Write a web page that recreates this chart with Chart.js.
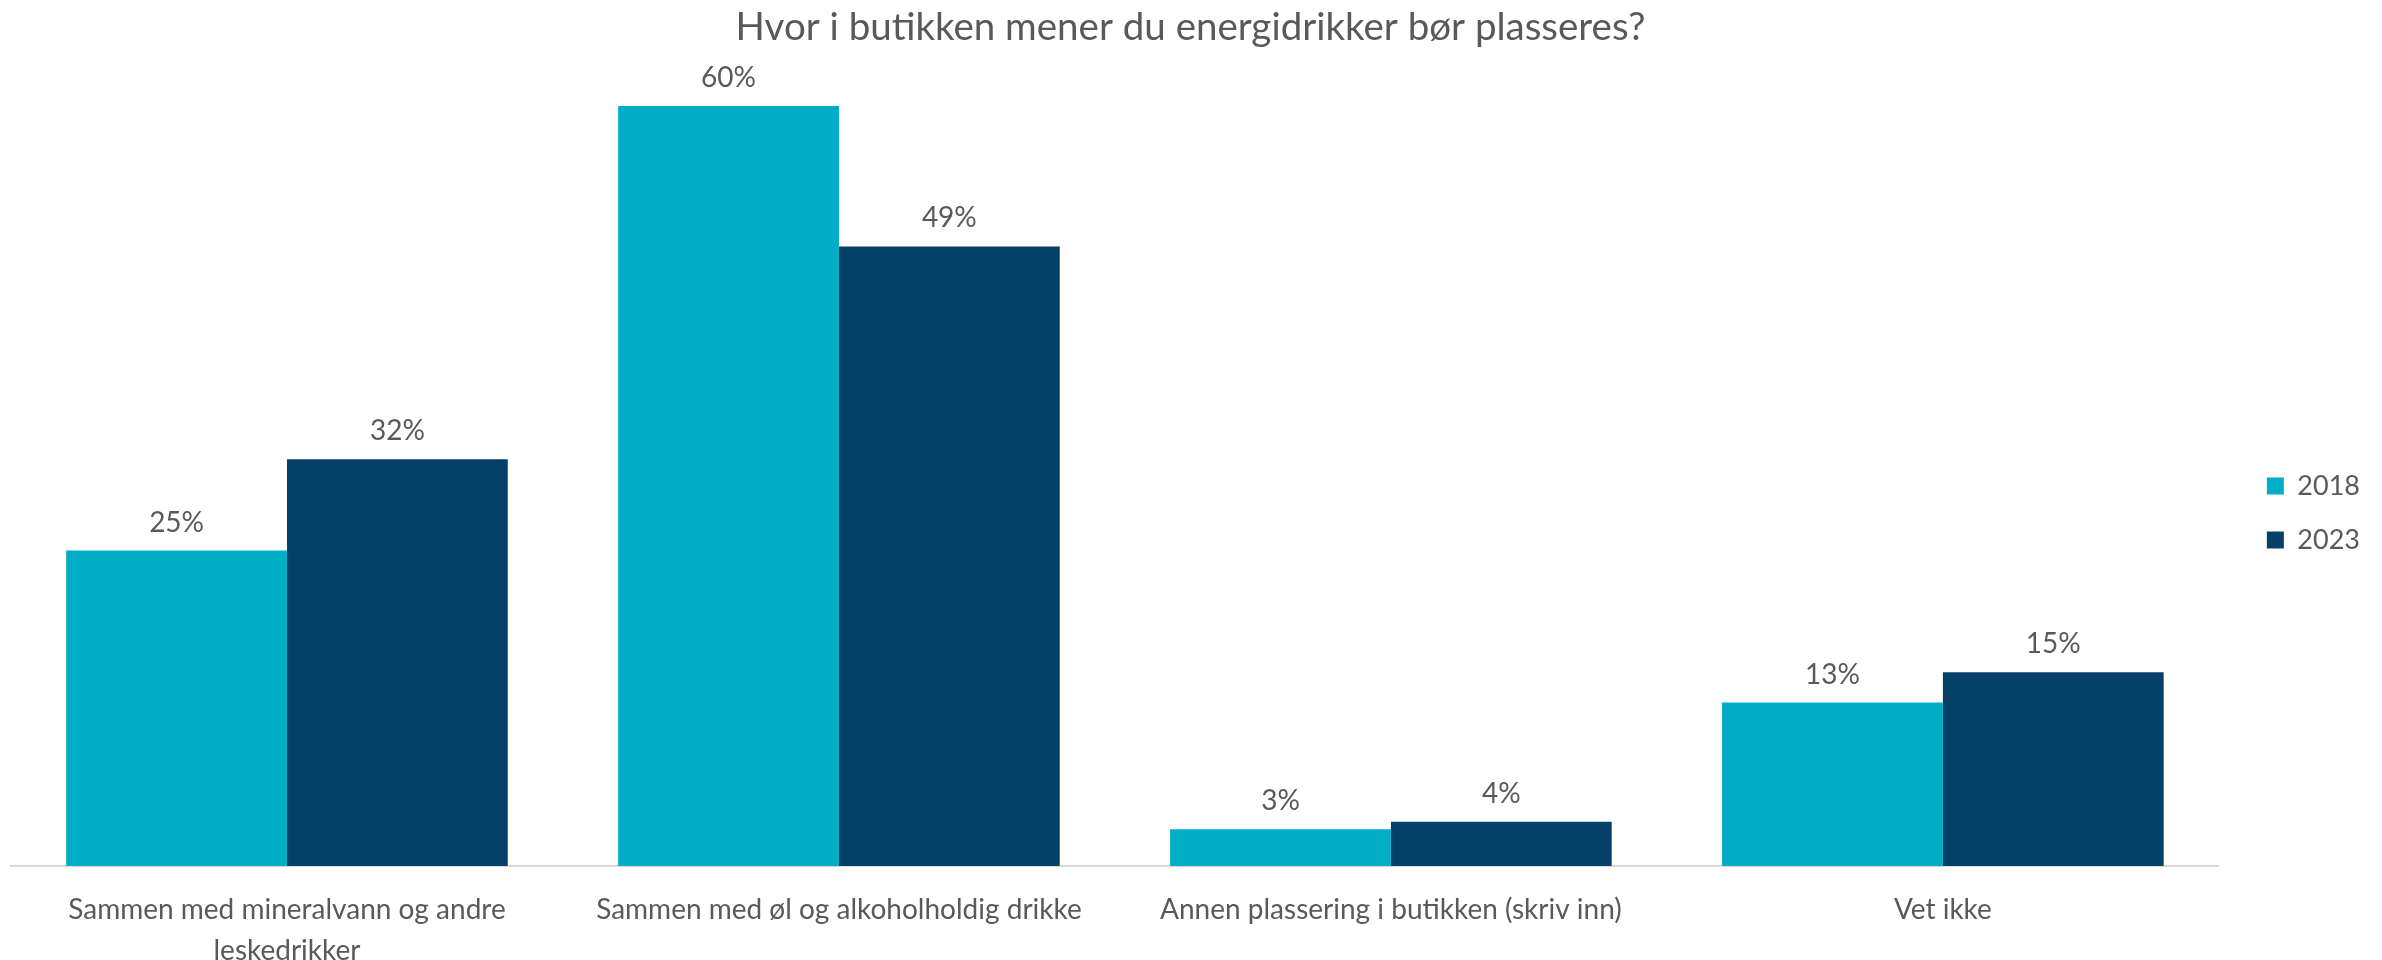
<!DOCTYPE html>
<html>
<head>
<meta charset="utf-8">
<script src="https://cdn.jsdelivr.net/npm/chart.js@4"></script>
<style>
  html, body { margin: 0; padding: 0; background: #fff; }
  #wrap { position: relative; width: 2382px; height: 960px; }
</style>
</head>
<body>
<div id="wrap"><canvas id="chart"></canvas></div>
<script>
const chartTitle = "Hvor i butikken mener du energidrikker bør plasseres?";
const categories = [
  ["Sammen med mineralvann og andre", "leskedrikker"],
  "Sammen med øl og alkoholholdig drikke",
  "Annen plassering i butikken (skriv inn)",
  "Vet ikke",
];
const seriesNames = ["2018", "2023"];
const values2018 = [24.9, 60.0, 2.9, 12.9];
const values2023 = [32.1, 48.9, 3.5, 15.3];

const textColor = "#595959";
const fontFamily = "Lato, 'Open Sans', sans-serif";

// percent labels above each bar
const barLabels = {
  id: "barLabels",
  afterDatasetsDraw(chart) {
    const ctx = chart.ctx;
    ctx.save();
    ctx.font = "28px " + fontFamily;
    ctx.fillStyle = textColor;
    ctx.textAlign = "center";
    ctx.textBaseline = "alphabetic";
    chart.data.datasets.forEach((ds, i) => {
      const meta = chart.getDatasetMeta(i);
      meta.data.forEach((bar, j) => {
        ctx.fillText(Math.round(ds.data[j]) + "%", bar.x, bar.y - 19);
      });
    });
    ctx.restore();
  },
};

new Chart(document.getElementById("chart"), {
  type: "bar",
  data: {
    labels: categories,
    datasets: [
      { label: seriesNames[0], data: values2018, backgroundColor: "#00adc7" },
      { label: seriesNames[1], data: values2023, backgroundColor: "#044068" },
    ],
  },
  options: {
    responsive: true,
    maintainAspectRatio: false,
    animation: false,
    datasets: { bar: { categoryPercentage: 0.8, barPercentage: 1.0 } },
    layout: { padding: { left: 11, right: 12, top: 0, bottom: 0 } },
    plugins: {
      title: {
        display: true,
        text: chartTitle,
        color: textColor,
        font: { family: fontFamily, size: 38.5, weight: "normal" },
        padding: { top: 4, bottom: 5 },
      },
      legend: {
        position: "right",
        title: { display: true, text: "", padding: 0, font: { size: 55 } },
        labels: {
          color: textColor,
          font: { family: fontFamily, size: 27 },
          boxWidth: 17,
          boxHeight: 17,
          padding: 27,
        },
      },
      tooltip: { enabled: false },
    },
    scales: {
      x: {
        grid: { display: false },
        border: { color: "#d9d9d9", width: 2 },
        ticks: {
          color: textColor,
          font: { family: fontFamily, size: 28, lineHeight: 1.45 },
          padding: 16,
          maxRotation: 0,
          autoSkip: false,
        },
        afterFit: (s) => { s.height = 94; },
      },
      y: {
        position: "right",
        min: 0,
        max: 64,
        grid: { display: false },
        border: { display: false },
        ticks: { display: false },
        afterFit: (s) => { s.width = 21; },
      },
    },
  },
  plugins: [barLabels],
});
</script>
</body>
</html>
